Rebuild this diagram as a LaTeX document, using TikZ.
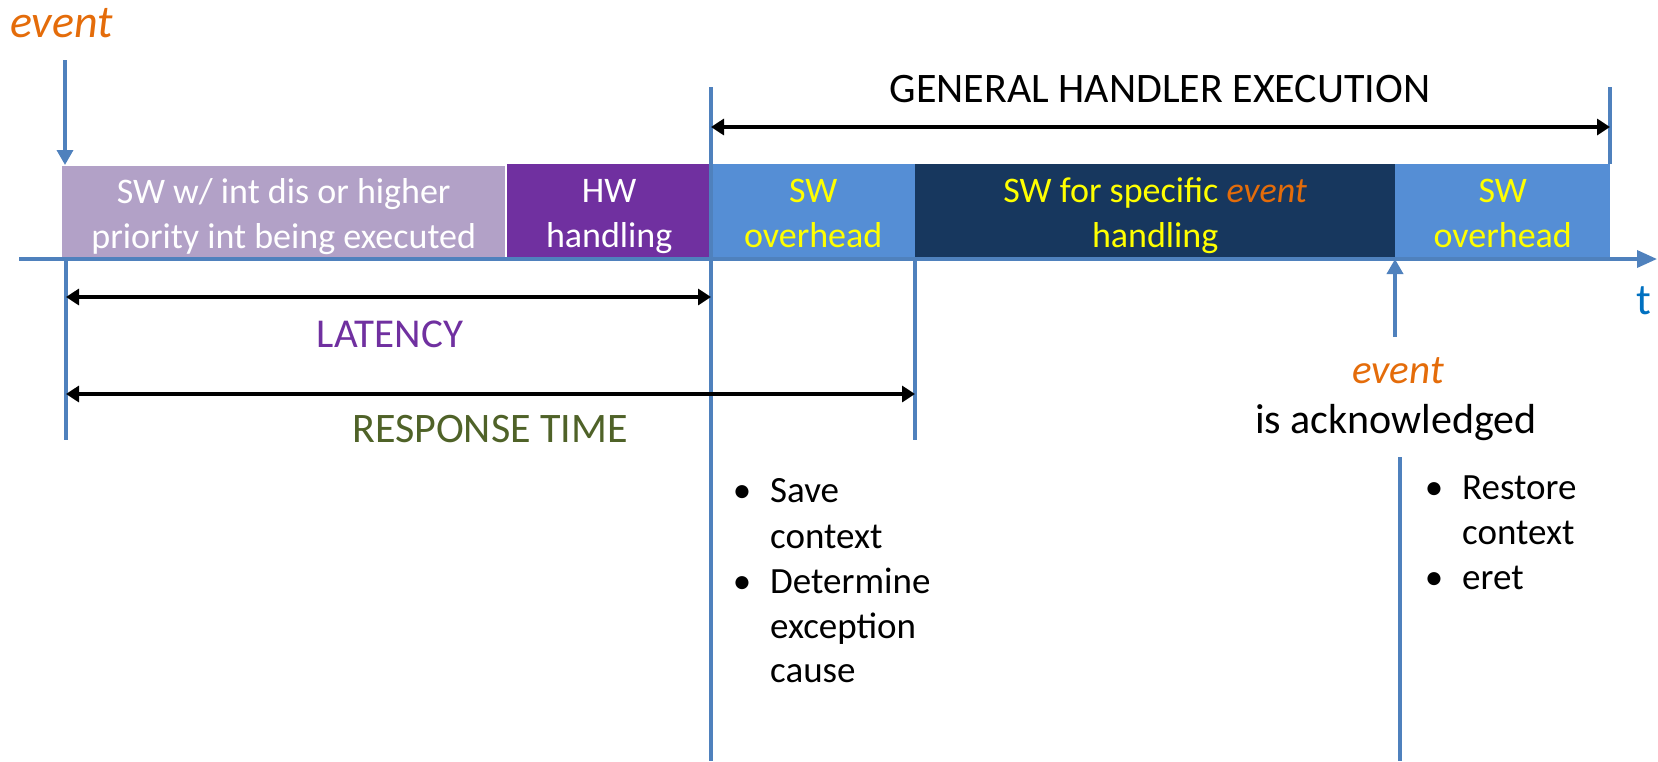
\documentclass[tikz,border=0pt]{standalone}
\usepackage{fontspec}
\setmainfont{Carlito}
\usetikzlibrary{arrows.meta}
\definecolor{lpurple}{HTML}{B2A1C7}
\definecolor{dpurple}{HTML}{7030A0}
\definecolor{lblue}{HTML}{558ED5}
\definecolor{navy}{HTML}{17375E}
\definecolor{lineblue}{HTML}{4F81BD}
\definecolor{tblue}{HTML}{0070C0}
\definecolor{evorange}{HTML}{E46C0A}
\definecolor{olive}{HTML}{4F6228}
\definecolor{ylw}{HTML}{FFFF00}
\newcommand{\twol}[2]{\rule{0pt}{35pt}#1\\#2\rule[-9pt]{0pt}{9pt}}
\begin{document}
\begin{tikzpicture}[x=1pt,y=-1pt,
  box/.style={anchor=north west, inner sep=0pt, minimum height=95pt, align=center, font=\fontsize{36}{45}\selectfont},
  bline/.style={draw=lineblue, line width=3.5pt},
  barrow/.style={bline, -{Triangle[length=15pt,width=16pt]}},
  dbl/.style={draw=black, line width=4pt, {Triangle[length=13pt,width=16pt]}-{Triangle[length=13pt,width=16pt]}},
  lbl/.style={anchor=base, inner sep=0pt, font=\fontsize{42}{50}\selectfont},
  bul/.style={anchor=base west, inner sep=0pt, font=\fontsize{37}{45}\selectfont}
]
\useasboundingbox (0,0) rectangle (1658,761);

% boxes
\node[box, fill=lpurple, text=white, minimum width=443pt, minimum height=93pt] (b1) at (62,166) {\twol{SW w/ int dis or higher}{priority int being executed}};
\node[box, fill=dpurple, text=white, minimum width=204pt] (b2) at (507,164) {\twol{HW}{handling}};
\node[box, fill=lblue, text=ylw, minimum width=204pt] (b3) at (711,164) {\twol{SW}{overhead}};
\node[box, fill=navy, text=ylw, minimum width=480pt] (b4) at (915,164) {\twol{SW for specific {\color{evorange}\itshape event}}{handling}};
\node[box, fill=lblue, text=ylw, minimum width=215pt] (b5) at (1395,164) {\twol{SW}{overhead}};

% coordinates
\coordinate (axL) at (19,259);
\coordinate (axR) at (1657,259);
\coordinate (evT) at (65,60);
\coordinate (evB) at (65,165);
\coordinate (ghT) at (711,87);
\coordinate (ghB) at (711,761);
\coordinate (geT) at (1610,87);
\coordinate (geB) at (1610,164);
\coordinate (l0T) at (66,259);
\coordinate (l0B) at (66,440);
\coordinate (l2T) at (915,259);
\coordinate (l2B) at (915,440);
\coordinate (akB) at (1395,337);
\coordinate (akT) at (1395,259);
\coordinate (rlT) at (1400,457);
\coordinate (rlB) at (1400,761);
\coordinate (ghA) at (711,127);
\coordinate (geA) at (1610,127);
\coordinate (laL) at (66,297);
\coordinate (laR) at (711,297);
\coordinate (rtL) at (66,394);
\coordinate (rtR) at (915,394);

% axis and lines
\draw[bline, -{Triangle[length=20pt,width=17pt]}] (axL) -- (axR);
\draw[barrow] (evT) -- (evB);
\draw[bline] (ghT) -- (ghB);
\draw[bline] (geT) -- (geB);
\draw[bline] (l0T) -- (l0B);
\draw[bline] (l2T) -- (l2B);
\draw[barrow] (akB) -- (akT);
\draw[bline] (rlT) -- (rlB);

% double arrows
\draw[dbl] (ghA) -- (geA);
\draw[dbl] (laL) -- (laR);
\draw[dbl] (rtL) -- (rtR);

% labels
\node[anchor=base west, inner sep=0pt, font=\fontsize{46}{50}\selectfont\itshape, text=evorange] (ev1) at (10,37) {event};
\node[lbl] (ghx) at (1160,102) {GENERAL HANDLER EXECUTION};
\node[lbl, text=dpurple, font=\fontsize{41}{50}\selectfont] (lat) at (390,347) {LATENCY};
\node[lbl, text=olive] (rt) at (490,442) {RESPONSE TIME};
\node[lbl, text=evorange, font=\fontsize{41}{50}\selectfont\itshape] (ev2) at (1398,383) {event};
\node[lbl] (ack) at (1396,433) {is acknowledged};
\node[lbl, text=tblue, font=\fontsize{44}{50}\selectfont] (tt) at (1644,314) {t};

% bullets
\node[bul] (s1) at (770,502) {\llap{•\hspace{19pt}}Save};
\node[bul] (s2) at (770,548) {context};
\node[bul] (s3) at (770,593) {\llap{•\hspace{19pt}}Determine};
\node[bul] (s4) at (770,638) {exception};
\node[bul] (s5) at (770,682) {cause};
\node[bul] (r1) at (1462,499) {\llap{•\hspace{19pt}}Restore};
\node[bul] (r2) at (1462,544) {context};
\node[bul] (r3) at (1462,589) {\llap{•\hspace{19pt}}eret};
\end{tikzpicture}
\end{document}
